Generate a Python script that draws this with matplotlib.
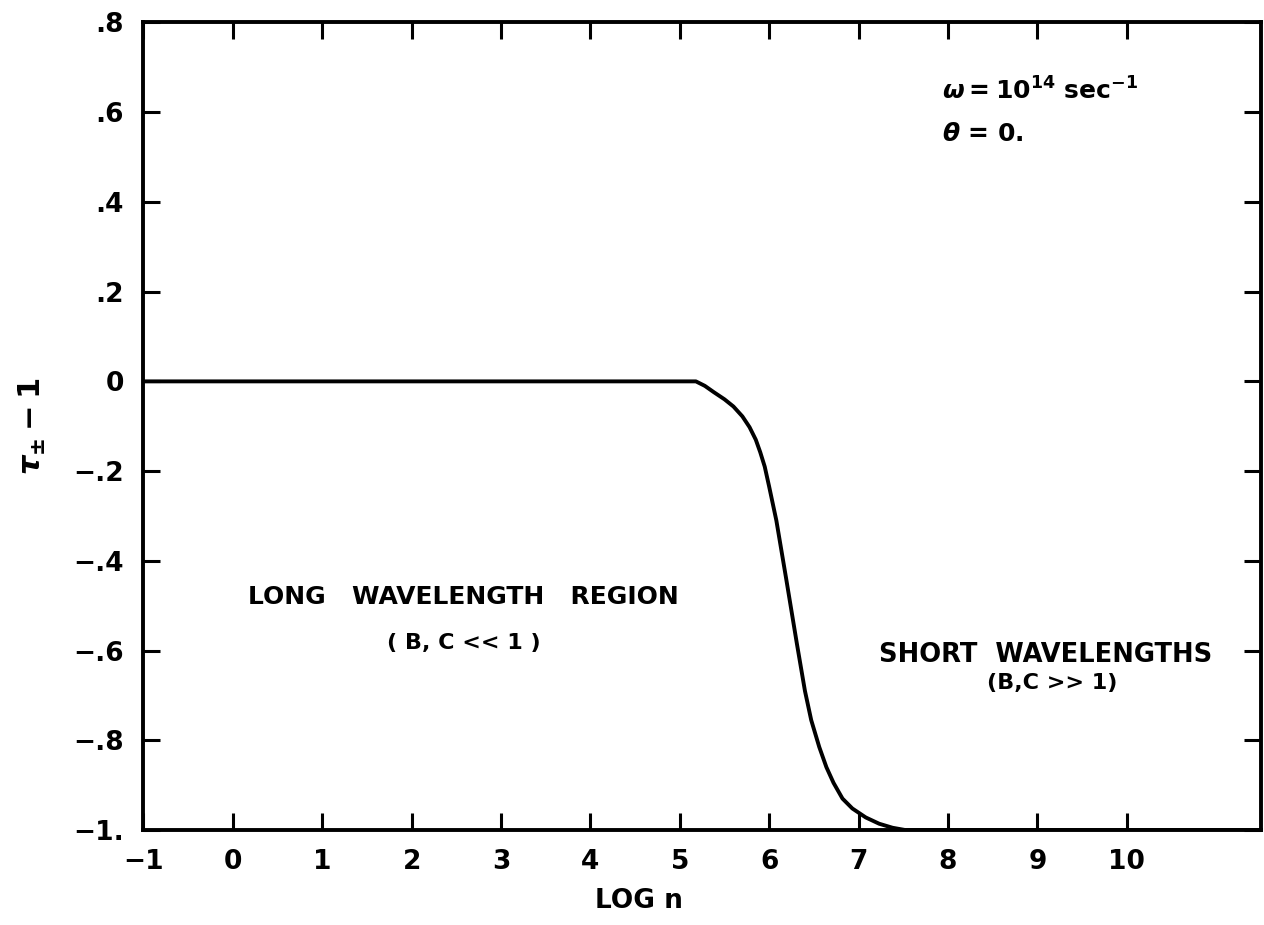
import matplotlib
matplotlib.use("Agg")
import matplotlib.pyplot as plt

# curve
log_n = [-1, 5.18, 5.28, 5.38, 5.50, 5.60, 5.70, 5.78, 5.85, 5.90, 5.95, 6.00,
         6.08, 6.19, 6.31, 6.40, 6.47, 6.56, 6.64, 6.72, 6.82, 6.93, 7.08,
         7.23, 7.38, 7.52, 11.5]
tau_minus_1 = [0, 0, -0.010, -0.024, -0.040, -0.056, -0.078, -0.102, -0.13, -0.158,
               -0.19, -0.235, -0.31, -0.44, -0.585, -0.69, -0.755, -0.815, -0.86,
               -0.895, -0.93, -0.952, -0.972, -0.986, -0.995, -1.0, -1.0]

x_ticks = list(range(-1, 11))
x_labels = ["\u22121", "0", "1", "2", "3", "4", "5", "6", "7", "8", "9", "10"]
y_ticks = [0.8, 0.6, 0.4, 0.2, 0, -0.2, -0.4, -0.6, -0.8, -1.0]
y_labels = [".8", ".6", ".4", ".2", "0", "\u2212.2", "\u2212.4", "\u2212.6", "\u2212.8", "\u22121."]

plt.rcParams['font.family'] = ['DejaVu Sans']
plt.rcParams['font.weight'] = 'bold'
plt.rcParams['mathtext.fontset'] = 'custom'
plt.rcParams['mathtext.rm'] = 'DejaVu Sans:bold'
plt.rcParams['mathtext.it'] = 'DejaVu Sans:bold:italic'
plt.rcParams['mathtext.bf'] = 'DejaVu Sans:bold'

fig = plt.figure(figsize=(12.64, 9.25), dpi=100)
ax = fig.add_axes([0.1135, 0.1027, 0.884, 0.873])

ax.plot(log_n, tau_minus_1, color='black', lw=2.8, solid_joinstyle='round',
        solid_capstyle='round')

ax.set_xlim(-1, 11.5)
ax.set_ylim(-1.0, 0.8)
ax.set_xticks(x_ticks)
ax.set_xticklabels(x_labels, fontsize=19, fontweight='bold')
ax.set_yticks(y_ticks)
ax.set_yticklabels(y_labels, fontsize=19, fontweight='bold')
ax.tick_params(direction='in', length=12, width=2.2, top=True, right=True, pad=14)
ax.tick_params(axis='y', pad=14)
for sp in ax.spines.values():
    sp.set_linewidth(2.8)

ax.set_xlabel("LOG n", fontsize=19, fontweight='bold')
ax.xaxis.set_label_coords(0.443, -0.072)
ax.set_ylabel(r"$\tau_{\pm}-1$", fontsize=22, labelpad=18)

ax.text(2.58, -0.48, "LONG   WAVELENGTH   REGION", fontsize=18, fontweight='bold',
        ha='center', va='center')
ax.text(2.58, -0.584, "( B, C << 1 )", fontsize=16, fontweight='bold',
        ha='center', va='center')
ax.text(9.09, -0.61, "SHORT  WAVELENGTHS", fontsize=18.5, fontweight='bold',
        ha='center', va='center')
ax.text(9.17, -0.673, "(B,C >> 1)", fontsize=16, fontweight='bold',
        ha='center', va='center')

ax.text(7.93, 0.648, r"$\omega = 10^{14}$ sec$^{-1}$", fontsize=18, ha='left', va='center')
ax.text(7.93, 0.552, r"$\theta$ = 0.", fontsize=18, ha='left', va='center')

fig.savefig("out.png", dpi=100)
